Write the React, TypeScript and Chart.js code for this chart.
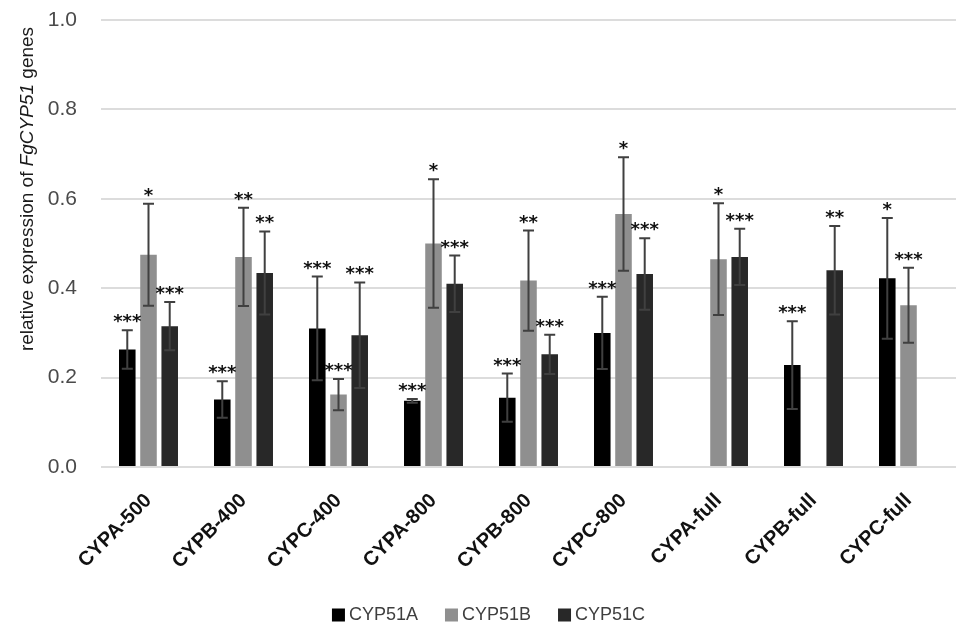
import React, { useEffect, useRef } from "react";
import { Chart, registerables } from "chart.js";

Chart.register(...registerables);

const categories = ["CYPA-500", "CYPB-400", "CYPC-400", "CYPA-800", "CYPB-800", "CYPC-800", "CYPA-full", "CYPB-full", "CYPC-full"];
const seriesNames = ["CYP51A", "CYP51B", "CYP51C"];
const seriesColors = ["#000000", "#8f8f8f", "#282828"];

const cyp51A = [0.263, 0.151, 0.310, 0.148, 0.155, 0.300, null, 0.228, 0.422];
const cyp51B = [0.475, 0.470, 0.162, 0.500, 0.417, 0.566, 0.465, null, 0.362];
const cyp51C = [0.315, 0.434, 0.295, 0.410, 0.252, 0.432, 0.470, 0.440, null];

const errA = [0.043, 0.041, 0.116, 0.004, 0.054, 0.081, null, 0.098, 0.135];
const errB = [0.114, 0.110, 0.035, 0.144, 0.112, 0.127, 0.125, null, 0.084];
const errC = [0.054, 0.093, 0.118, 0.063, 0.044, 0.080, 0.063, 0.099, null];

const sigA = ["***", "***", "***", "***", "***", "***", "", "***", "*"];
const sigB = ["*", "**", "***", "*", "**", "*", "*", "", "***"];
const sigC = ["***", "**", "***", "***", "***", "***", "***", "**", ""];

const yTicks = [0.0, 0.2, 0.4, 0.6, 0.8, 1.0];
const yTitleParts = [
  { text: "relative expression of ", italic: false },
  { text: "FgCYP51", italic: true },
  { text: " genes", italic: false },
];

const values = [cyp51A, cyp51B, cyp51C];
const errors = [errA, errB, errC];
const sigs = [sigA, sigB, sigC];

const FONT = "'Liberation Sans', Arial, sans-serif";

const errorPlugin = {
  id: "errorBarsAndSig",
  afterDatasetsDraw(chart: any) {
    const ctx = chart.ctx;
    const y = chart.scales.y;
    values.forEach((vals, di) => {
      const meta = chart.getDatasetMeta(di);
      meta.data.forEach((bar: any, i: number) => {
        const v = vals[i];
        const e = errors[di][i];
        if (v == null || e == null) return;
        const top = y.getPixelForValue(v + e);
        const bot = y.getPixelForValue(v - e);
        const x = bar.x;
        ctx.save();
        ctx.strokeStyle = "#404040";
        ctx.lineWidth = 2;
        ctx.beginPath();
        ctx.moveTo(x, top);
        ctx.lineTo(x, bot);
        ctx.moveTo(x - 5.5, top);
        ctx.lineTo(x + 5.5, top);
        ctx.moveTo(x - 5.5, bot);
        ctx.lineTo(x + 5.5, bot);
        ctx.stroke();
        const s = sigs[di][i];
        if (s) {
          ctx.fillStyle = "#111111";
          ctx.font = "bold 18px 'DejaVu Sans', sans-serif";
          ctx.textAlign = "center";
          ctx.textBaseline = "alphabetic";
          ctx.fillText(s, x, top - 3);
        }
        ctx.restore();
      });
    });
  },
};

const decorPlugin = {
  id: "decor",
  afterDraw(chart: any) {
    const ctx = chart.ctx;
    // y axis title with mixed italics
    ctx.save();
    ctx.translate(28, 189);
    ctx.rotate(-Math.PI / 2);
    ctx.fillStyle = "#1a1a1a";
    ctx.textBaseline = "middle";
    ctx.textAlign = "left";
    let total = 0;
    const widths = yTitleParts.map((p) => {
      ctx.font = (p.italic ? "italic " : "") + "19px " + FONT;
      const w = ctx.measureText(p.text).width;
      total += w;
      return w;
    });
    let cx = -total / 2;
    yTitleParts.forEach((p, i) => {
      ctx.font = (p.italic ? "italic " : "") + "19px " + FONT;
      ctx.fillText(p.text, cx, 0);
      cx += widths[i];
    });
    ctx.restore();

    // legend
    ctx.save();
    ctx.font = "18px " + FONT;
    ctx.textBaseline = "middle";
    ctx.textAlign = "left";
    const box = 13;
    const gap = 4;
    const spacing = 27;
    const items = seriesNames.map((n) => box + gap + ctx.measureText(n).width);
    const totalW = items.reduce((a, b) => a + b, 0) + spacing * (items.length - 1);
    let lx = 488.5 - totalW / 2;
    const ly = 615;
    seriesNames.forEach((n, i) => {
      ctx.fillStyle = seriesColors[i];
      ctx.fillRect(lx, ly - box / 2, box, box);
      ctx.fillStyle = "#3f3f3f";
      ctx.fillText(n, lx + box + gap, ly);
      lx += items[i] + spacing;
    });
    ctx.restore();
  },
};

export default function App() {
  const ref = useRef<HTMLCanvasElement | null>(null);
  useEffect(() => {
    if (!ref.current) return;
    const chart = new Chart(ref.current, {
      type: "bar",
      data: {
        labels: categories,
        datasets: seriesNames.map((name, i) => ({
          label: name,
          data: values[i] as any,
          backgroundColor: seriesColors[i],
          borderWidth: 0,
          categoryPercentage: 0.67,
          barPercentage: 0.78,
        })),
      },
      options: {
        responsive: false,
        animation: false,
        layout: { padding: { top: 20, left: 0, right: 0, bottom: 0 } },
        plugins: {
          legend: { display: false },
          tooltip: { enabled: false },
          title: { display: false },
        },
        scales: {
          x: {
            grid: { display: false, drawTicks: false },
            border: { display: false },
            ticks: {
              color: "#111111",
              font: { family: FONT, size: 20, weight: "bold" },
              minRotation: 45,
              maxRotation: 45,
              padding: 22,
              autoSkip: false,
            },
            afterFit: (s: any) => {
              s.height = 159;
              s.paddingTop = 0;
              s.paddingBottom = 0;
            },
          },
          y: {
            min: 0,
            max: 1,
            grid: { color: "#dcdcdc", lineWidth: 2, drawTicks: false },
            border: { display: false },
            afterBuildTicks: (s: any) => {
              s.ticks = yTicks.map((v) => ({ value: v }));
            },
            ticks: {
              color: "#4a4a4a",
              font: { family: FONT, size: 21 },
              padding: 24,
              callback: (v: any) => Number(v).toFixed(1),
            },
            afterFit: (s: any) => {
              s.width = 101;
              s.paddingTop = 0;
              s.paddingBottom = 0;
            },
          },
        },
      },
      plugins: [errorPlugin, decorPlugin],
    });
    return () => chart.destroy();
  }, []);
  return (
    <div style={{ position: "absolute", left: 0, top: 0, width: 956, height: 626, background: "#ffffff" }}>
      <canvas ref={ref} width={956} height={626} />
    </div>
  );
}
